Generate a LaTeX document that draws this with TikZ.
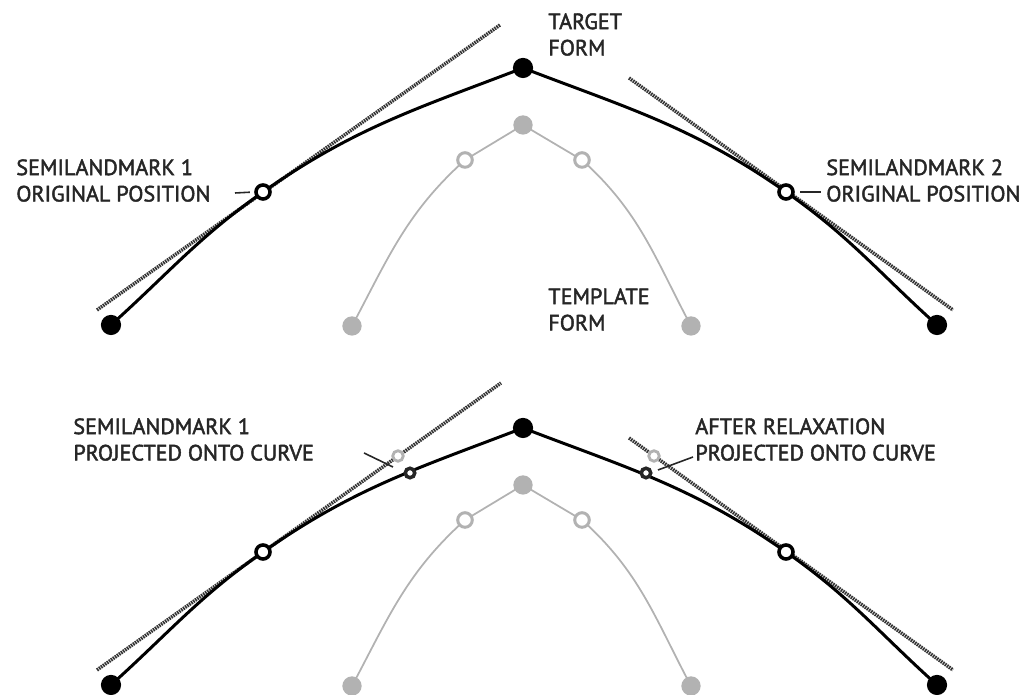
\documentclass[tikz,border=0pt]{standalone}
\usepackage{fontspec}
\setmainfont[FakeBold=2]{PT Sans}
\begin{document}
\begin{tikzpicture}[x=0.02cm,y=0.02cm,
  lmk/.style={circle,fill=black,draw=none,minimum size=11.5pt,inner sep=0pt},
  tlmk/.style={circle,fill=gray!60,draw=none,minimum size=11pt,inner sep=0pt},
  semi/.style={circle,fill=white,draw=black,line width=2pt,minimum size=8pt,inner sep=0pt},
  tsemi/.style={circle,fill=white,draw=gray!60,line width=1.7pt,minimum size=8.3pt,inner sep=0pt},
  proj/.style={circle,fill=white,draw=black!85,line width=2pt,minimum size=5.4pt,inner sep=0pt},
  slid/.style={circle,fill=white,draw=gray!60,line width=1.6pt,minimum size=6pt,inner sep=0pt},
  curve/.style={line width=1.7pt,black},
  tcurve/.style={line width=1pt,gray!60},
  tangent/.style={line width=2pt,black!80,dash pattern=on 0.9pt off 0.5pt},
  leader/.style={line width=0.9pt,black!85},
  lbl/.style={anchor=north west,inner sep=0pt,align=left,text=black!85,
    font=\fontsize{12.6}{15}\selectfont}]
\useasboundingbox (0,0) rectangle (1036,695);

% ---------- upper panel: original positions ----------
\coordinate (tL) at (111,370);
\coordinate (tS1) at (263,503);
\coordinate (tTop) at (523,627);
\coordinate (tS2) at (786,503);
\coordinate (tR) at (937,370);
\coordinate (tg1a) at (97,385);
\coordinate (tg1b) at (500,670);
\coordinate (tg2a) at (629,617);
\coordinate (tg2b) at (953,385);
\coordinate (gTop) at (523,570);
\coordinate (gS1) at (465,535);
\coordinate (gS2) at (582,535);
\coordinate (gL) at (352,369);
\coordinate (gR) at (691,369);

% template form
\draw[tcurve] (gL) to[out=62,in=222] (gS1) -- (gTop) -- (gS2) to[out=-42,in=118] (gR);
% tangents
\draw[tangent] (tg1a) -- (tg1b);
\draw[tangent] (tg2a) -- (tg2b);
% target form
\draw[curve] (tL) to[out=42,in=215] (tS1) to[out=35,in=201] (tTop)
  to[out=-21,in=145] (tS2) to[out=-35,in=138] (tR);

\node[tlmk] (ngTop) at (gTop) {};
\node[tlmk] (ngL) at (gL) {};
\node[tlmk] (ngR) at (gR) {};
\node[tsemi] (ngS1) at (gS1) {};
\node[tsemi] (ngS2) at (gS2) {};
\node[lmk] (ntTop) at (tTop) {};
\node[lmk] (ntL) at (tL) {};
\node[lmk] (ntR) at (tR) {};
\node[semi] (ntS1) at (tS1) {};
\node[semi] (ntS2) at (tS2) {};

\node[lbl] (lTarget) at (548,682) {TARGET\\FORM};
\node[lbl] (lTemplate) at (548,407) {TEMPLATE\\FORM};
\node[lbl] (lS1) at (16,536) {SEMILANDMARK 1\\ORIGINAL POSITION};
\node[lbl] (lS2) at (826,536) {SEMILANDMARK 2\\ORIGINAL POSITION};
\coordinate (ld1) at (235,502);
\coordinate (ld2) at (821,503);
\draw[leader,shorten >=2.5pt] (ld1) -- (ntS1.west);
\draw[leader,shorten <=3pt] (ntS2.east) -- (ld2);

% ---------- lower panel: after relaxation ----------
\coordinate (bL) at (111,10);
\coordinate (bS1) at (263,143);
\coordinate (bTop) at (523,267);
\coordinate (bS2) at (786,143);
\coordinate (bR) at (937,10);
\coordinate (bg1a) at (97,25);
\coordinate (bg1b) at (501,312);
\coordinate (bg2a) at (629,257);
\coordinate (bg2b) at (953,25);
\coordinate (hTop) at (523,210);
\coordinate (hS1) at (465,175);
\coordinate (hS2) at (582,175);
\coordinate (hL) at (352,9);
\coordinate (hR) at (691,9);
\coordinate (sl1) at (398,239);
\coordinate (pr1) at (410,222);
\coordinate (sl2) at (654,239);
\coordinate (pr2) at (646,222);

\draw[tcurve] (hL) to[out=62,in=222] (hS1) -- (hTop) -- (hS2) to[out=-42,in=118] (hR);
\draw[tangent] (bg1a) -- (bg1b);
\draw[tangent] (bg2a) -- (bg2b);
\draw[curve] (bL) to[out=42,in=215] (bS1) to[out=35,in=201] (bTop)
  to[out=-21,in=145] (bS2) to[out=-35,in=138] (bR);

\node[tlmk] (nhTop) at (hTop) {};
\node[tlmk] (nhL) at (hL) {};
\node[tlmk] (nhR) at (hR) {};
\node[tsemi] (nhS1) at (hS1) {};
\node[tsemi] (nhS2) at (hS2) {};
\node[lmk] (nbTop) at (bTop) {};
\node[lmk] (nbL) at (bL) {};
\node[lmk] (nbR) at (bR) {};
\node[semi] (nbS1) at (bS1) {};
\node[semi] (nbS2) at (bS2) {};
\node[slid] (nsl1) at (sl1) {};
\node[slid] (nsl2) at (sl2) {};
\node[proj] (npr1) at (pr1) {};
\node[proj] (npr2) at (pr2) {};

\node[lbl] (lP1) at (73,277) {SEMILANDMARK 1\\PROJECTED ONTO CURVE};
\node[lbl] (lP2) at (695,277) {AFTER RELAXATION\\PROJECTED ONTO CURVE};
\coordinate (ld3) at (364,242);
\coordinate (ld3e) at (393,228);
\coordinate (ld4) at (658,225);
\coordinate (ld4e) at (693,238);
\draw[leader] (ld3) -- (ld3e);
\draw[leader] (ld4) -- (ld4e);
\end{tikzpicture}
\end{document}
